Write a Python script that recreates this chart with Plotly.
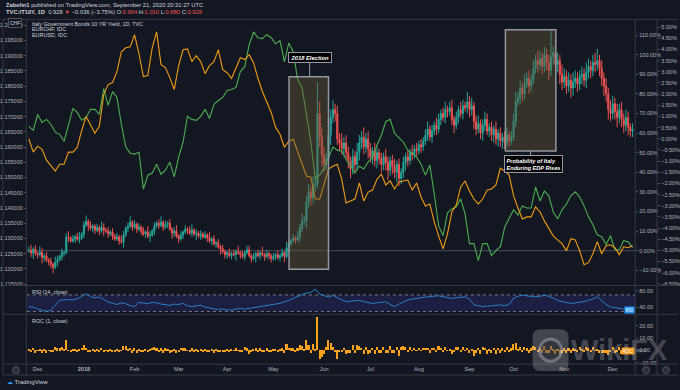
import plotly.graph_objects as go
import pandas as pd

# ---------------- data ----------------
start_date = "2017-11-27"
n_days = 275
month_labels = ["Dec", "<b>2018</b>", "Feb", "Mar", "Apr", "May", "Jun", "Jul", "Aug", "Sep", "Oct", "Nov", "Dec"]

# Italy 10Y yield, daily close in percentage mode (% vs first bar)
it10y_close = [
    0.0, -1.2, 0.8, -1.5, -2.0, -0.8, -3.5, -2.6, -4.8, -5.5,
    -7.0, -8.5, -6.0, -4.5, -3.0, -1.0, -1.0, 7.0, 6.5, 5.0,
    6.0, 7.2, 5.8, 6.5, 8.5, 13.0, 15.0, 13.0, 11.5, 12.5,
    10.5, 11.8, 10.0, 12.0, 10.5, 10.0, 8.5, 9.5, 7.5, 6.0,
    7.0, 5.0, 4.5, 8.0, 11.5, 12.5, 14.5, 12.0, 13.5, 11.0,
    12.0, 10.0, 8.5, 9.5, 7.5, 8.0, 10.0, 12.5, 14.0, 13.0,
    14.5, 12.0, 13.5, 14.0, 11.0, 9.0, 10.0, 7.5, 6.0, 8.0,
    9.5, 11.0, 10.5, 9.0, 10.5, 8.5, 9.0, 7.5, 8.5, 7.0,
    8.0, 6.5, 5.0, 6.0, 3.5, 4.0, 2.0, 1.0, -0.5, -2.0,
    -1.0, -2.5, -1.5, -2.0, -0.5, -1.0, -2.0, -3.0, -1.0, 0.5,
    -2.5, -4.0, -3.0, -1.5, -2.5, -1.0, -2.0, -3.0, -1.5, -2.5,
    -4.0, -3.0, -2.0, -3.5, -2.5, -1.0, -3.0, 1.5, 3.5, 5.0,
    6.5, 5.5, 7.0, 11.5, 15.0, 15.5, 25.0, 30.0, 27.0, 33.0,
    34.0, 70.0, 58.0, 49.0, 44.0, 47.0, 59.0, 68.0, 72.0, 70.0,
    57.0, 55.0, 52.0, 55.0, 50.0, 46.0, 42.0, 48.0, 44.0, 50.0,
    55.0, 58.0, 53.0, 57.0, 52.0, 48.0, 51.0, 46.0, 50.0, 47.0,
    44.0, 48.0, 45.0, 41.0, 46.0, 43.0, 40.0, 44.0, 37.0, 40.0,
    45.0, 48.0, 46.0, 50.0, 49.0, 52.0, 51.0, 54.0, 53.0, 56.0,
    59.0, 62.0, 58.0, 61.0, 64.0, 62.0, 67.0, 70.0, 68.0, 72.0,
    71.0, 73.0, 67.0, 64.0, 68.0, 72.0, 70.0, 74.0, 73.0, 76.0,
    72.0, 74.0, 66.0, 62.0, 65.0, 60.0, 64.0, 67.0, 61.0, 63.0,
    59.0, 62.0, 57.0, 60.0, 56.0, 58.0, 55.0, 59.0, 56.0, 58.0,
    66.0, 76.0, 78.0, 83.0, 80.0, 85.0, 88.0, 84.0, 87.0, 93.0,
    97.0, 95.0, 98.0, 94.0, 100.0, 96.0, 92.0, 99.0, 101.0, 95.0,
    97.0, 90.0, 86.0, 89.0, 84.0, 87.0, 83.0, 86.0, 88.0, 85.0,
    89.0, 90.0, 87.0, 91.0, 94.0, 92.0, 96.0, 95.0, 97.0, 93.0,
    88.0, 84.0, 80.0, 72.0, 70.0, 75.0, 71.0, 68.0, 72.0, 67.0,
    64.0, 68.0, 63.0, 61.0, 62.0,
]
# upper / lower wick lengths (percentage points)
it10y_wick_up = [
    2, 3, 1, 2, 1, 3, 2, 1, 2, 1,  2, 1, 3, 2, 1, 2, 1, 2, 3, 1,
    2, 1, 2, 3, 1, 2, 3, 1, 2, 1,  1, 2, 1, 3, 2, 1, 2, 1, 2, 1,
    2, 1, 3, 2, 1, 2, 3, 1, 2, 1,  2, 1, 2, 1, 3, 2, 1, 2, 1, 2,
    3, 1, 2, 1, 2, 1, 2, 3, 1, 2,  1, 2, 1, 2, 3, 1, 2, 1, 2, 1,
    2, 1, 3, 1, 2, 1, 2, 1, 2, 1,  1, 2, 1, 2, 1, 3, 1, 2, 1, 2,
    2, 1, 2, 1, 2, 1, 3, 1, 2, 1,  1, 2, 1, 2, 1, 2, 1, 3, 2, 1,
    2, 1, 3, 2, 4, 2, 3, 4, 3, 5,  4, 16, 6, 5, 4, 3, 5, 4, 5, 3,
    4, 3, 5, 3, 4, 3, 2, 4, 3, 5,  4, 3, 5, 3, 4, 3, 2, 4, 3, 2,
    3, 2, 4, 3, 2, 3, 4, 2, 3, 2,  3, 2, 3, 2, 4, 2, 3, 2, 3, 2,
    3, 4, 2, 3, 2, 4, 3, 2, 3, 4,  2, 3, 4, 2, 3, 2, 4, 3, 2, 5,
    3, 4, 2, 3, 4, 2, 3, 4, 3, 2,  3, 2, 4, 2, 3, 2, 3, 4, 2, 3,
    4, 5, 3, 4, 3, 5, 3, 4, 3, 4,  3, 5, 4, 3, 4, 3, 4, 14, 3, 4,
    4, 3, 5, 4, 3, 4, 3, 5, 4, 3,  3, 4, 3, 5, 4, 3, 4, 5, 6, 3,
    4, 3, 4, 3, 5, 4, 3, 4, 3, 4,  3, 4, 3, 2, 3,
]
it10y_wick_dn = [
    1, 2, 3, 1, 2, 1, 3, 2, 1, 2,  2, 3, 1, 2, 1, 2, 2, 1, 2, 1,
    1, 2, 1, 2, 1, 2, 1, 3, 1, 2,  2, 1, 2, 1, 3, 1, 2, 1, 2, 1,
    1, 2, 1, 3, 1, 2, 1, 2, 1, 2,  1, 2, 1, 2, 1, 3, 1, 2, 1, 2,
    1, 2, 1, 2, 1, 3, 2, 1, 2, 1,  2, 1, 2, 1, 2, 1, 3, 1, 2, 1,
    1, 2, 1, 2, 1, 2, 1, 3, 1, 2,  2, 1, 2, 1, 3, 1, 2, 1, 2, 1,
    1, 2, 1, 3, 1, 2, 1, 2, 1, 2,  2, 1, 2, 1, 2, 1, 3, 1, 2, 1,
    1, 2, 1, 3, 2, 2, 4, 3, 4, 3,  3, 2, 5, 6, 4, 3, 4, 5, 3, 4,
    3, 4, 3, 4, 3, 4, 5, 3, 4, 3,  4, 3, 4, 3, 5, 3, 4, 3, 4, 3,
    4, 3, 4, 5, 3, 4, 3, 5, 4, 3,  3, 4, 3, 2, 3, 2, 3, 2, 3, 2,
    2, 3, 2, 3, 2, 3, 2, 3, 2, 3,  3, 2, 3, 4, 2, 3, 2, 3, 2, 3,
    4, 3, 4, 3, 2, 3, 4, 3, 2, 3,  3, 4, 3, 4, 3, 4, 3, 2, 3, 2,
    2, 3, 2, 3, 4, 3, 2, 4, 3, 2,  3, 4, 3, 4, 3, 4, 5, 3, 4, 3,
    4, 5, 4, 3, 4, 3, 5, 4, 3, 4,  3, 4, 3, 4, 3, 4, 3, 4, 3, 4,
    4, 5, 4, 5, 4, 3, 4, 5, 3, 4,  4, 3, 4, 3, 3,
]
# ROC (1, close), daily
roc_values = [
    0.6, -1.2, 2.0, -2.3, -0.5, 1.2, -2.7, 0.9, -2.3, -0.7,
    -1.6, -1.6, 2.7, 1.6, 1.6, 2.1, 0.2, 8.1, -0.5, -1.4,
    0.9, 1.1, -1.3, 0.7, 1.9, 4.1, 1.8, -1.7, -1.3, 0.9,
    -1.8, 1.2, -1.6, 1.8, -1.3, -0.5, -1.4, 0.9, -1.8, -1.4,
    0.9, -1.9, -0.5, 3.3, 3.2, 0.9, 1.8, -2.2, 1.3, -2.2,
    0.9, -1.8, -1.4, 0.9, -1.8, 0.5, 1.9, 2.3, 1.3, -0.9,
    1.3, -2.2, 1.3, 0.4, -2.6, -1.8, 0.9, -2.3, -1.4, 1.9,
    1.4, 1.4, -0.5, -1.4, 1.4, -1.8, 0.5, -1.4, 0.9, -1.4,
    0.9, -1.4, -1.4, 1.0, -2.4, 0.5, -1.9, -1.0, -1.5, -1.5,
    1.0, -1.5, 1.0, -0.5, 1.5, -0.5, -1.0, -1.0, 2.1, 1.5,
    -3.0, -1.5, 1.0, 1.5, -1.0, 1.5, -1.0, -1.0, 1.5, -1.0,
    -1.5, 1.0, 1.0, -1.5, 1.0, 1.5, -2.0, 4.6, 2.0, 1.4,
    1.4, -0.9, 1.4, 4.2, 3.1, 0.4, 8.2, 4.0, -2.3, 4.7,
    0.8, 26.9, -7.1, -5.7, -3.4, 2.1, 8.2, 5.7, 2.4, -1.2,
    -7.6, -1.3, -1.9, 2.0, -3.2, -2.7, -2.7, 4.2, -2.7, 4.2,
    3.3, 1.9, -3.2, 2.6, -3.2, -2.6, 2.0, -3.3, 2.7, -2.0,
    -2.0, 2.8, -2.0, -2.8, 3.5, -2.1, -2.1, 2.9, -4.9, 2.2,
    3.6, 2.1, -1.4, 2.7, -0.7, 2.0, -0.7, 2.0, -0.6, 2.0,
    1.9, 1.9, -2.5, 1.9, 1.9, -1.2, 3.1, 1.8, -1.2, 2.4,
    -0.6, 1.2, -3.5, -1.8, 2.4, 2.4, -1.2, 2.4, -0.6, 1.7,
    -2.3, 1.2, -4.6, -2.4, 1.9, -3.0, 2.5, 1.8, -3.6, 1.2,
    -2.5, 1.9, -3.1, 1.9, -2.5, 1.3, -1.9, 2.6, -1.9, 1.3,
    5.1, 6.0, 1.1, 2.8, -1.6, 2.8, 1.6, -2.1, 1.6, 3.2,
    2.1, -1.0, 1.5, -2.0, 3.1, -2.0, -2.0, 3.6, 1.0, -3.0,
    1.0, -3.6, -2.1, 1.6, -2.6, 1.6, -2.1, 1.6, 1.1, -1.6,
    2.2, 0.5, -1.6, 2.1, 1.6, -1.0, 2.1, -0.5, 1.0, -2.0,
    -2.6, -2.1, -2.2, -4.4, -1.2, 2.9, -2.3, -1.8, 2.4, -2.9,
    -1.8, 2.4, -3.0, -1.2, 0.6,
]
# EURCHF (left scale), every 2nd trading day
eurchf = [
    1.1668, 1.1655, 1.1707, 1.1681, 1.1691, 1.1675, 1.1649, 1.1642, 1.1619, 1.1675,
    1.1727, 1.1714, 1.1688, 1.1698, 1.1724, 1.1724, 1.1707, 1.1792, 1.1737, 1.1782,
    1.1763, 1.1675, 1.1600, 1.1580, 1.1577, 1.1583, 1.1462, 1.1508, 1.1515, 1.1544,
    1.1511, 1.1524, 1.1551, 1.1502, 1.1567, 1.1616, 1.1701, 1.1691, 1.1688, 1.1701,
    1.1724, 1.1694, 1.1740, 1.1753, 1.1763, 1.1786, 1.1789, 1.1796, 1.1848, 1.1864,
    1.1936, 1.1978, 1.1959, 1.1956, 1.1969, 1.1959, 1.1939, 1.1949, 1.1880, 1.1942,
    1.1913, 1.1822, 1.1796, 1.1707, 1.1616, 1.1495, 1.1508, 1.1531, 1.1564, 1.1600,
    1.1590, 1.1587, 1.1560, 1.1538, 1.1515, 1.1538, 1.1528, 1.1551, 1.1567, 1.1606,
    1.1639, 1.1684, 1.1691, 1.1645, 1.1632, 1.1616, 1.1590, 1.1580, 1.1567, 1.1544,
    1.1508, 1.1541, 1.1446, 1.1342, 1.1309, 1.1384, 1.1397, 1.1404, 1.1430, 1.1381,
    1.1283, 1.1283, 1.1227, 1.1283, 1.1283, 1.1244, 1.1260, 1.1273, 1.1338, 1.1368,
    1.1394, 1.1377, 1.1407, 1.1400, 1.1400, 1.1469, 1.1423, 1.1456, 1.1440, 1.1387,
    1.1364, 1.1394, 1.1413, 1.1440, 1.1453, 1.1436, 1.1407, 1.1371, 1.1345, 1.1312,
    1.1306, 1.1280, 1.1309, 1.1263, 1.1263, 1.1293, 1.1289, 1.1270,
]
# EURUSD in percentage mode (right outer scale), every 2nd trading day
eurusd_pct = [
    0.0, -0.60, -0.33, -0.47, -0.96, -1.18, -1.45, -1.14, -1.14, -0.60,
    -0.60, -0.38, 0.38, 1.00, 0.65, 0.25, 0.56, 1.98, 2.43, 2.52,
    3.01, 3.90, 4.08, 4.12, 4.66, 3.81, 2.79, 2.83, 4.08, 4.79,
    3.32, 3.19, 2.74, 2.21, 3.28, 3.99, 4.03, 3.46, 3.72, 3.46,
    2.92, 3.28, 3.46, 3.99, 3.10, 2.96, 2.70, 3.19, 3.63, 3.55,
    3.77, 3.41, 2.70, 2.12, 1.63, 1.18, 0.51, 0.20, -0.38, -0.11,
    -0.02, -0.56, -1.18, -1.67, -1.72, -2.70, -2.70, -2.03, -1.36, -1.23,
    -1.14, -1.81, -2.88, -2.79, -2.70, -1.98, -2.79, -2.39, -2.30, -1.81,
    -1.58, -2.07, -1.89, -2.25, -1.94, -1.89, -1.85, -2.30, -1.98, -2.61,
    -3.01, -2.92, -3.72, -4.35, -4.93, -4.26, -3.28, -2.96, -2.16, -1.89,
    -2.34, -2.70, -2.92, -2.70, -2.30, -2.25, -2.07, -1.32, -1.45, -1.63,
    -2.56, -3.10, -3.59, -3.50, -3.50, -3.05, -3.28, -3.68, -4.03, -4.35,
    -4.53, -4.70, -5.02, -4.48, -4.53, -5.02, -5.64, -5.55, -5.15, -4.61,
    -5.15, -4.79, -4.75, -4.88, -5.19, -4.84, -4.88, -4.79,
]
# RSI (14, close), every 2nd trading day
rsi_values = [
    41.5, 40.5, 36, 33, 30.5, 33, 46, 57, 58, 59,
    58, 61, 66, 73, 66, 63, 65, 58, 53, 50,
    47, 51, 49, 44, 42, 52, 51, 49, 52, 51,
    48, 46, 45, 48, 47, 49.5, 44, 42, 44, 45.5,
    41, 38, 36.5, 35, 36, 34, 33.5, 36, 37.5, 36,
    37.5, 39, 41, 43, 44.5, 46, 48, 50, 53, 57,
    62, 67, 72, 75, 76, 84, 72, 68, 65, 69,
    63, 58, 54, 55, 56, 57, 54, 51, 49.5, 51,
    53, 53.5, 47, 42, 48, 54, 58, 60, 62, 63,
    65, 66, 67, 68, 66, 63, 61.5, 63, 64, 65.5,
    60, 46, 44, 42, 43, 44.5, 45, 46, 44, 47,
    62, 67, 69, 68, 66, 65.5, 67, 69, 67, 61,
    57, 54, 51, 49.5, 51, 52, 54, 57, 60, 66,
    57, 47, 41, 39, 37, 36, 37.5, 37,
]

pct_ticks = [-10, 0, 10, 20, 30, 40, 50, 60, 70, 80, 90, 100, 110]
usd_ticks = [-6.5, -6.0, -5.5, -5.0, -4.5, -4.0, -3.5, -3.0, -2.5, -2.0, -1.5, -1.0, -0.5,
             0.0, 0.5, 1.0, 1.5, 2.0, 2.5, 3.0, 3.5, 4.0, 4.5, 5.0]
chf_ticks = [1.115, 1.120, 1.125, 1.130, 1.135, 1.140, 1.145, 1.150, 1.155, 1.160,
             1.165, 1.170, 1.175, 1.180, 1.185, 1.190, 1.195, 1.200]
rsi_ticks = [40, 80]
roc_ticks = [-10, 0, 10, 20]

# ---------------- build ----------------
W, H = 680, 390


def X(p):
    return p / W


def Y(p):
    return 1 - p / H


def fmt(v, nd, suffix=""):
    s = f"{v:.{nd}f}{suffix}"
    return s.replace("-", "\u2212")


dates = pd.bdate_range(start_date, periods=n_days)
pos = list(range(n_days))
line_pos = pos[::2]
month_pos = [i for i in range(1, n_days) if dates[i].month != dates[i - 1].month]

opens = [it10y_close[0]] + it10y_close[:-1]
highs = [max(o, c) + w for o, c, w in zip(opens, it10y_close, it10y_wick_up)]
lows = [min(o, c) - w for o, c, w in zip(opens, it10y_close, it10y_wick_dn)]

fig = go.Figure()
fig.add_trace(go.Candlestick(
    x=pos, open=opens, high=highs, low=lows, close=it10y_close,
    xaxis="x", yaxis="y",
    increasing=dict(line=dict(color="#26a69a", width=1), fillcolor="#26a69a"),
    decreasing=dict(line=dict(color="#ef5350", width=1), fillcolor="#ef5350"),
    whiskerwidth=0, hoverinfo="skip"))
fig.add_trace(go.Scatter(x=line_pos, y=eurchf, xaxis="x", yaxis="y2", mode="lines",
                         line=dict(color="#4caf50", width=1.1), hoverinfo="skip"))
fig.add_trace(go.Scatter(x=line_pos, y=eurusd_pct, xaxis="x", yaxis="y3", mode="lines",
                         line=dict(color="#f39c12", width=1.1), hoverinfo="skip"))
fig.add_trace(go.Scatter(x=line_pos, y=rsi_values, xaxis="x", yaxis="y4", mode="lines",
                         line=dict(color="#2a7fc9", width=1), hoverinfo="skip"))
fig.add_trace(go.Bar(x=pos, y=roc_values, xaxis="x", yaxis="y5", width=0.7,
                     marker=dict(color="#ffa31a", line=dict(width=0)), hoverinfo="skip"))

FONT = "Liberation Sans, Arial, sans-serif"
axis_font = dict(family=FONT, size=5.5, color="#b2b5be")
common = dict(showgrid=False, zeroline=False, ticks="outside", ticklen=2,
              tickcolor="#50535e", tickfont=axis_font, showline=False)

fig.update_layout(
    width=W, height=H, margin=dict(l=0, r=0, t=0, b=0),
    paper_bgcolor="#131722", plot_bgcolor="#131722",
    showlegend=False, hovermode=False, bargap=0,
    xaxis=dict(domain=[X(26), X(637)], anchor="y5", range=[-0.88, 275.2],
               tickvals=month_pos, ticktext=month_labels, ticks="",
               showgrid=False, zeroline=False, showline=False,
               tickfont=dict(family=FONT, size=5.5, color="#b2b5be"),
               rangeslider=dict(visible=False)),
    yaxis=dict(domain=[Y(287), Y(21)], anchor="x", side="right",
               range=[-17.77, 117.26], tickvals=pct_ticks,
               ticktext=[fmt(v, 2, "%") for v in pct_ticks], **common),
    yaxis2=dict(overlaying="y", anchor="x", side="left",
                range=[1.11456, 1.20143], tickvals=chf_ticks,
                ticktext=[f"{v:.6f}" for v in chf_ticks], **common),
    yaxis3=dict(overlaying="y", anchor="free", position=X(659), side="right",
                range=[-6.576, 5.283], tickvals=usd_ticks,
                ticktext=[fmt(v, 2, "%") for v in usd_ticks], **common),
    yaxis4=dict(domain=[Y(316), Y(287)], anchor="x", side="right",
                range=[23.2, 92.7], tickvals=rsi_ticks,
                ticktext=[fmt(v, 2) for v in rsi_ticks], **common),
    yaxis5=dict(domain=[Y(366), Y(316)], anchor="x", side="right",
                range=[-11.2, 29.5], tickvals=roc_ticks,
                ticktext=[fmt(v, 2) for v in roc_ticks], **common),
)

border = "#363a45"
shapes = []
# RSI band and guide lines
shapes.append(dict(type="rect", xref="paper", yref="y4", x0=X(26), x1=X(637), y0=30, y1=70,
                   fillcolor="#1c1f42", line=dict(width=0), layer="below"))
for lvl in (30, 70):
    shapes.append(dict(type="line", xref="paper", yref="y4", x0=X(26), x1=X(637), y0=lvl, y1=lvl,
                       line=dict(color="#787b86", width=1, dash="dot"), layer="below"))
# 0% baseline of the percentage scale
shapes.append(dict(type="line", xref="paper", yref="y", x0=X(26), x1=X(637), y0=0, y1=0,
                   line=dict(color="#4a4e59", width=1), layer="below"))
# pane borders
for xp in (2, 25.5, 637, 659):
    shapes.append(dict(type="line", xref="paper", yref="paper", x0=X(xp), x1=X(xp),
                       y0=Y(19.5), y1=Y(377), line=dict(color=border, width=1)))
for yp in (19.5, 287, 316, 366, 377):
    shapes.append(dict(type="line", xref="paper", yref="paper", x0=X(2), x1=1,
                       y0=Y(yp), y1=Y(yp), line=dict(color=border, width=1)))
# highlight boxes
box_fill = "rgba(100,88,55,0.42)"
box_line = dict(color="#9598a1", width=1.5)
shapes.append(dict(type="rect", xref="x", yref="y", x0=118.1, x1=136.0, y0=-9.5, y1=88.7,
                   fillcolor=box_fill, line=box_line, layer="above"))
shapes.append(dict(type="rect", xref="x", yref="y", x0=216.3, x1=239.2, y0=50.9, y1=112.7,
                   fillcolor=box_fill, line=box_line, layer="above"))
shapes.append(dict(type="line", xref="paper", yref="paper", x0=X(310), x1=X(310), y0=Y(62), y1=Y(77),
                   line=dict(color="#9598a1", width=1)))
shapes.append(dict(type="line", xref="paper", yref="paper", x0=X(532), x1=X(532), y0=Y(152), y1=Y(158),
                   line=dict(color="#9598a1", width=1)))
# small round buttons on the time scale
for cx in (15, 648, 668):
    shapes.append(dict(type="circle", xref="paper", yref="paper", x0=X(cx - 3.5), x1=X(cx + 3.5),
                       y0=Y(375.5), y1=Y(368.5), fillcolor="#2a2e39", line=dict(color="#50535e", width=1)))


# WikiFX watermark logo (rounded square)
def rounded_rect(x0, y0, x1, y1, r):
    return (f"M {X(x0 + r)},{Y(y0)} L {X(x1 - r)},{Y(y0)} Q {X(x1)},{Y(y0)} {X(x1)},{Y(y0 + r)} "
            f"L {X(x1)},{Y(y1 - r)} Q {X(x1)},{Y(y1)} {X(x1 - r)},{Y(y1)} "
            f"L {X(x0 + r)},{Y(y1)} Q {X(x0)},{Y(y1)} {X(x0)},{Y(y1 - r)} "
            f"L {X(x0)},{Y(y0 + r)} Q {X(x0)},{Y(y0)} {X(x0 + r)},{Y(y0)} Z")


shapes.append(dict(type="path", xref="paper", yref="paper", path=rounded_rect(534, 331, 570, 373, 8),
                   fillcolor="rgba(190,190,195,0.28)", line=dict(width=0), layer="above"))
shapes.append(dict(type="circle", xref="paper", yref="paper", x0=X(541), x1=X(563), y0=Y(363), y1=Y(341),
                   fillcolor="rgba(19,23,34,0.35)", line=dict(color="rgba(220,220,225,0.35)", width=3),
                   layer="above"))
fig.update_layout(shapes=shapes)

txt = "#d1d4dc"
red = "#ef5350"
ann = []


def add_text(x, y, text, size=5.6, color=txt, xanchor="left", **kw):
    ann.append(dict(xref="paper", yref="paper", x=X(x), y=Y(y), text=text, showarrow=False,
                    xanchor=xanchor, yanchor="middle", font=dict(family=FONT, size=size, color=color), **kw))


add_text(3, 5.5, "<b>Zabelin1</b> published on TradingView.com, September 21, 2020 20:31:27 UTC", size=5.8)
add_text(3, 11.8, f"<b>TVC:IT10Y, 1D</b>  0.928 <span style='color:{red}'>▼</span> \u22120.036 (\u22123.75%) "
                  f"O:<span style='color:{red}'>0.964</span> H:<span style='color:{red}'>1.010</span> "
                  f"L:<span style='color:{red}'>0.880</span> C:<span style='color:{red}'>0.928</span>", size=5.8)
add_text(29, 23.8, "Italy Government Bonds 10 YR Yield, 1D, TVC", size=5.4)
add_text(29, 29.6, "EURCHF, IDC", size=5.4)
add_text(29, 35.4, "EURUSD, IDC", size=5.4)
add_text(29, 293.5, "RSI (14, close)", size=5.4)
add_text(29, 322.5, "ROC (1, close)", size=5.4)
add_text(14, 23.0, "CHF", size=5, xanchor="center", bgcolor="#131722", bordercolor="#50535e",
         borderwidth=1, borderpad=1)
add_text(310, 58, "<b><i>2018 Election</i></b>", size=5.8, color="#ffffff", xanchor="center",
         bgcolor="#000000", bordercolor="#9598a1", borderwidth=1, borderpad=1.5)
add_text(535, 164.5, "<b><i>Probability of Italy<br>Enduring EDP Rises</i></b>", size=5.6, color="#ffffff",
         xanchor="center", align="left", bgcolor="#000000", bordercolor="#9598a1", borderwidth=1, borderpad=1.5)
add_text(631.5, 311.5, "RSI", size=4.5, color="#ffffff", xanchor="center", bgcolor="#2196f3", borderpad=0.5)
add_text(630, 352.5, "ROC", size=4.5, color="#ffffff", xanchor="center", bgcolor="#ff9800", borderpad=0.5)
add_text(4, 383.5, "<span style='color:#2196f3'>\u2601</span> TradingView", size=6)
add_text(621, 352, "<b>WikiFX</b>", size=29, color="rgba(190,190,195,0.30)", xanchor="center")
fig.update_layout(annotations=ann)

fig.write_html(
    "out.html",
    config={"displayModeBar": False},
    post_script="document.body.style.margin='0px';document.body.style.padding='0px';"
                "document.body.style.overflow='hidden';document.body.style.background='#131722';",
)
